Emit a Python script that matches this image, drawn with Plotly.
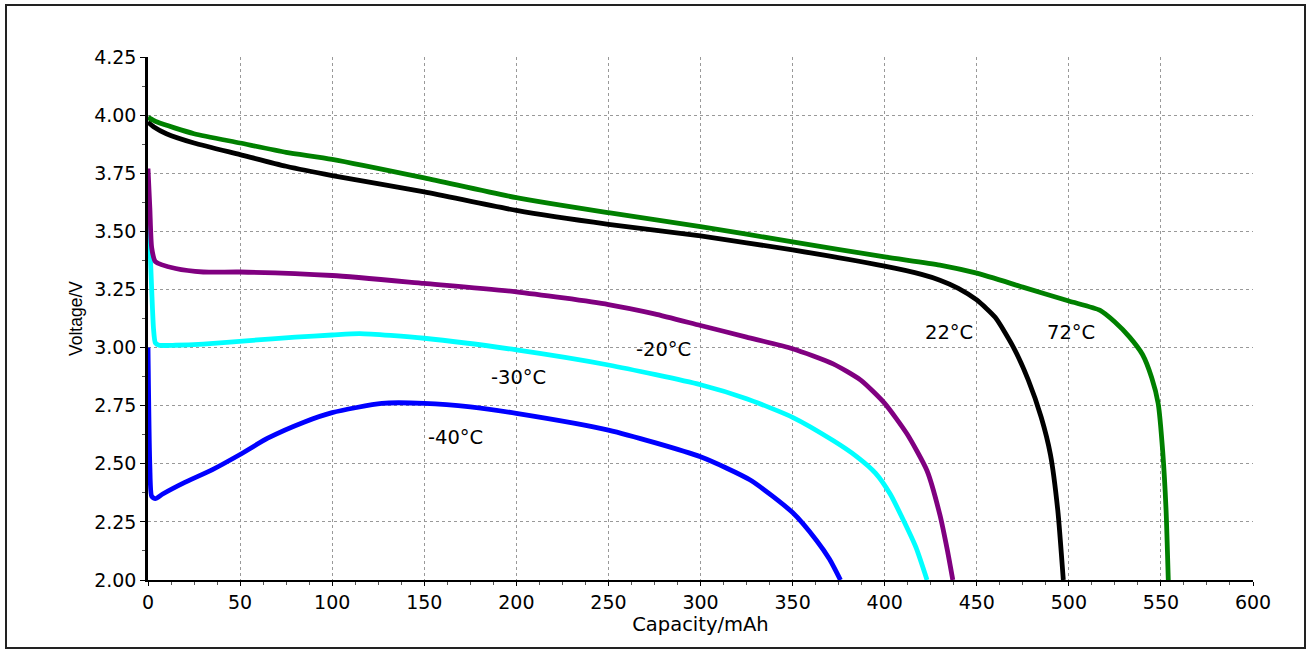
import plotly.graph_objects as go

# 72°C
x72 = [0, 5, 25, 50, 75, 100, 150, 200, 250, 300, 350, 400, 430, 450, 475, 500, 517, 525, 533, 540, 545, 548.5, 551, 552.8, 554]
y72 = [3.99, 3.97, 3.92, 3.88, 3.84, 3.81, 3.73, 3.645, 3.58, 3.52, 3.455, 3.39, 3.355, 3.32, 3.26, 3.20, 3.16, 3.11, 3.045, 2.97, 2.87, 2.76, 2.55, 2.30, 2.00]
# 22°C
x22 = [0, 3, 10, 25, 50, 75, 100, 150, 200, 250, 300, 350, 400, 420, 430, 440, 450, 460, 470, 478, 485, 490, 494, 497]
y22 = [3.97, 3.95, 3.92, 3.88, 3.83, 3.78, 3.74, 3.67, 3.59, 3.53, 3.48, 3.42, 3.35, 3.315, 3.29, 3.255, 3.205, 3.13, 3.00, 2.86, 2.70, 2.54, 2.30, 2.00]
# -20°C
xm20 = [0, 1, 2, 4, 15, 30, 50, 100, 150, 200, 250, 275, 300, 325, 350, 372, 387, 400, 412, 423, 430, 434, 437]
ym20 = [3.77, 3.60, 3.43, 3.37, 3.34, 3.325, 3.325, 3.31, 3.276, 3.24, 3.185, 3.145, 3.095, 3.045, 2.995, 2.93, 2.86, 2.76, 2.63, 2.47, 2.28, 2.13, 2.00]
# -30°C
xm30 = [0, 1, 2, 3, 4, 6, 15, 30, 55, 80, 100, 115, 150, 200, 250, 300, 325, 350, 372, 385, 395, 403, 410, 417, 423]
ym30 = [3.63, 3.45, 3.25, 3.08, 3.02, 3.01, 3.01, 3.015, 3.03, 3.045, 3.054, 3.06, 3.04, 2.99, 2.925, 2.84, 2.78, 2.70, 2.60, 2.53, 2.46, 2.37, 2.26, 2.14, 2.00]
# -40°C
xm40 = [0, 1, 2, 4, 8, 20, 35, 50, 65, 85, 100, 127, 150, 175, 200, 250, 300, 327, 350, 363, 370, 376]
ym40 = [3.00, 2.49, 2.36, 2.35, 2.37, 2.42, 2.475, 2.54, 2.61, 2.68, 2.72, 2.76, 2.76, 2.745, 2.717, 2.645, 2.53, 2.43, 2.29, 2.17, 2.09, 2.00]

label_text = ["-20°C", "-30°C", "-40°C", "22°C", "72°C"]
label_x = [280, 201, 167, 435, 501]
label_y = [2.99, 2.873, 2.615, 3.063, 3.063]

series = [
    (xm40, ym40, "#0000FF", "-40°C"),
    (xm30, ym30, "#00FFFF", "-30°C"),
    (xm20, ym20, "#800080", "-20°C"),
    (x22, y22, "#000000", "22°C"),
    (x72, y72, "#008000", "72°C"),
]

HFONT = "DejaVu Sans"
GRID = "#999999"

fig = go.Figure()
for xs, ys, c, n in series:
    fig.add_trace(go.Scatter(x=xs, y=ys, mode="lines", name=n,
                             line=dict(color=c, width=4.8, shape="spline", smoothing=0.6)))

for t, lx, ly in zip(label_text, label_x, label_y):
    fig.add_annotation(x=lx, y=ly, text=t, showarrow=False,
                       font=dict(size=19.5, color="#000000", family=HFONT))

fig.update_layout(
    width=1310, height=652,
    margin=dict(l=148, r=57, t=57, b=72),
    paper_bgcolor="white", plot_bgcolor="white",
    showlegend=False,
    font=dict(family=HFONT, color="#000000"),
)
fig.update_xaxes(
    range=[0, 600], dtick=50, tick0=0,
    showgrid=True, gridcolor=GRID, griddash="3px,3px", gridwidth=1,
    showline=True, linecolor="#000000", linewidth=2,
    ticks="outside", ticklen=4, tickcolor="#000000",
    minor=dict(dtick=12.5, ticks="outside", ticklen=3, tickcolor="#555555", showgrid=False),
    tickfont=dict(size=19, family=HFONT), zeroline=False,
    title=dict(text="Capacity/mAh", font=dict(size=19.5, family=HFONT), standoff=0),
)
fig.update_yaxes(
    range=[2.0, 4.25], dtick=0.25, tick0=2.0, tickformat=".2f",
    showgrid=True, gridcolor=GRID, griddash="3px,3px", gridwidth=1,
    showline=True, linecolor="#000000", linewidth=2.5,
    ticks="outside", ticklen=5, tickcolor="#000000",
    minor=dict(dtick=0.125, ticks="outside", ticklen=3, tickcolor="#555555", showgrid=False),
    tickfont=dict(size=19, family=HFONT), zeroline=False,
    title=dict(text="Voltage/V", font=dict(size=17.5, family="Liberation Sans"), standoff=8),
)
# outer frame
fig.add_shape(type="rect", xref="paper", yref="paper",
              x0=(6 - 148) / 1105, x1=(1305 - 148) / 1105,
              y0=(580 - 648) / 523, y1=(580 - 5) / 523,
              line=dict(color="#222222", width=2), layer="below")

fig.write_html("out.html",
               config={"displayModeBar": False},
               post_script="document.body.style.margin='0';document.body.style.overflow='hidden';")
